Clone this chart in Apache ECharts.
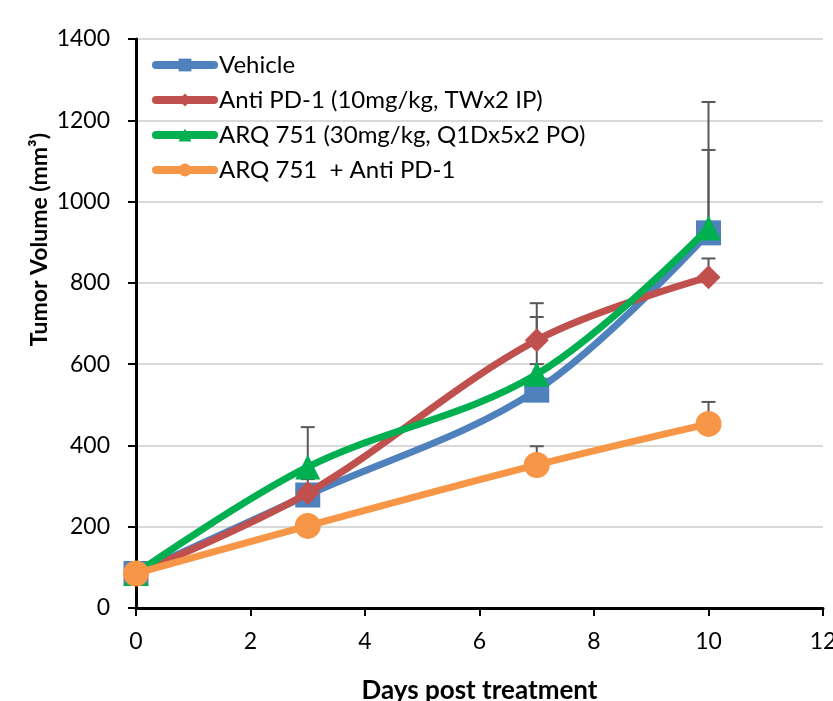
<!DOCTYPE html>
<html>
<head>
<meta charset="utf-8">
<script src="https://cdn.jsdelivr.net/npm/echarts@6/dist/echarts.min.js"></script>
<style>
  html, body { margin: 0; padding: 0; background: #fff; }
  #main { width: 833px; height: 701px; }
</style>
</head>
<body>
<div id="main"></div>
<script>
// days of measurement
var days = [0, 3, 7, 10];
// mean tumor volume per group (mm3)
var vehicle = [85, 278, 536, 923];
var antiPD1 = [85, 283, 659, 814];
var arq751 = [85, 347, 575, 935];
var combo = [85, 202, 352, 453];
// upper ends of error bars
var vehicleErr = [85, 317, 716, 1127];
var antiPD1Err = [85, 283, 750, 860];
var arq751Err = [85, 445, 600, 1245];
var comboErr = [85, 215, 398, 507];

var names = ['Vehicle', 'Anti PD-1 (10mg/kg, TWx2 IP)', 'ARQ 751 (30mg/kg, Q1Dx5x2 PO)', 'ARQ 751  + Anti PD-1'];
var colors = ['#4f81bd', '#c0504d', '#00b050', '#f79646'];
var symbols = ['rect', 'diamond', 'triangle', 'circle'];
var sizes = [25, 24, 25, 26];

var font = 'Lato, "Open Sans", sans-serif';

function pairs(vals) {
    return days.map(function (d, i) { return [d, vals[i]]; });
}

function errData(vals, tops) {
    return days.map(function (d, i) { return [d, vals[i], tops[i]]; });
}

var allErr = [].concat(errData(vehicle, vehicleErr), errData(antiPD1, antiPD1Err),
    errData(arq751, arq751Err), errData(combo, comboErr));

var chart = echarts.init(document.getElementById('main'));

var series = [{
    type: 'custom',
    z: 1,
    silent: true,
    data: allErr,
    renderItem: function (params, api) {
        var p0 = api.coord([api.value(0), api.value(1)]);
        var p1 = api.coord([api.value(0), api.value(2)]);
        var style = { stroke: '#595959', lineWidth: 2 };
        return {
            type: 'group',
            children: [
                { type: 'line', shape: { x1: p0[0], y1: p0[1], x2: p1[0], y2: p1[1] }, style: style },
                { type: 'line', shape: { x1: p1[0] - 7, y1: p1[1], x2: p1[0] + 7, y2: p1[1] }, style: style }
            ]
        };
    }
}];

[vehicle, antiPD1, arq751, combo].forEach(function (vals, i) {
    series.push({
        name: names[i],
        type: 'line',
        z: 2 + i,
        smooth: 0.35,
        data: pairs(vals),
        symbol: symbols[i],
        symbolSize: sizes[i],
        color: colors[i],
        lineStyle: { width: 7, color: colors[i] },
        itemStyle: { color: colors[i] }
    });
});

var option = {
    animation: false,
    grid: { left: 136, right: 10, top: 39, bottom: 93, outerBoundsMode: 'none' },
    legend: {
        orient: 'vertical',
        left: 147,
        top: 48,
        itemWidth: 58,
        itemHeight: 16,
        itemGap: 11,
        data: names,
        lineStyle: { width: 8, cap: 'round' },
        textStyle: { fontFamily: font, fontSize: 24, color: '#000' }
    },
    xAxis: {
        type: 'value',
        min: 0,
        max: 12,
        interval: 2,
        name: 'Days post treatment',
        nameLocation: 'middle',
        nameGap: 70,
        nameTextStyle: { fontFamily: font, fontSize: 26, fontWeight: 'bold', color: '#000' },
        axisLine: { lineStyle: { color: '#000', width: 3 } },
        axisTick: { show: true, length: 8, lineStyle: { color: '#000', width: 2 } },
        axisLabel: { fontFamily: font, fontSize: 23, color: '#000', margin: 22 },
        splitLine: { show: false }
    },
    yAxis: {
        type: 'value',
        min: 0,
        max: 1400,
        interval: 200,
        axisLine: { show: true, lineStyle: { color: '#000', width: 3 } },
        axisTick: { show: true, length: 8, lineStyle: { color: '#000', width: 2 } },
        axisLabel: {
            fontFamily: font, fontSize: 23, color: '#000', margin: 26,
            formatter: function (v) { return String(v); }
        },
        splitLine: { lineStyle: { color: '#d9d9d9', width: 2 } }
    },
    graphic: [{
        type: 'text',
        left: 28,
        top: 133,
        rotation: Math.PI / 2,
        style: {
            text: 'Tumor Volume (mm³)',
            font: 'bold 23px ' + font,
            fill: '#000'
        }
    }],
    series: series
};

chart.setOption(option);
</script>
</body>
</html>
